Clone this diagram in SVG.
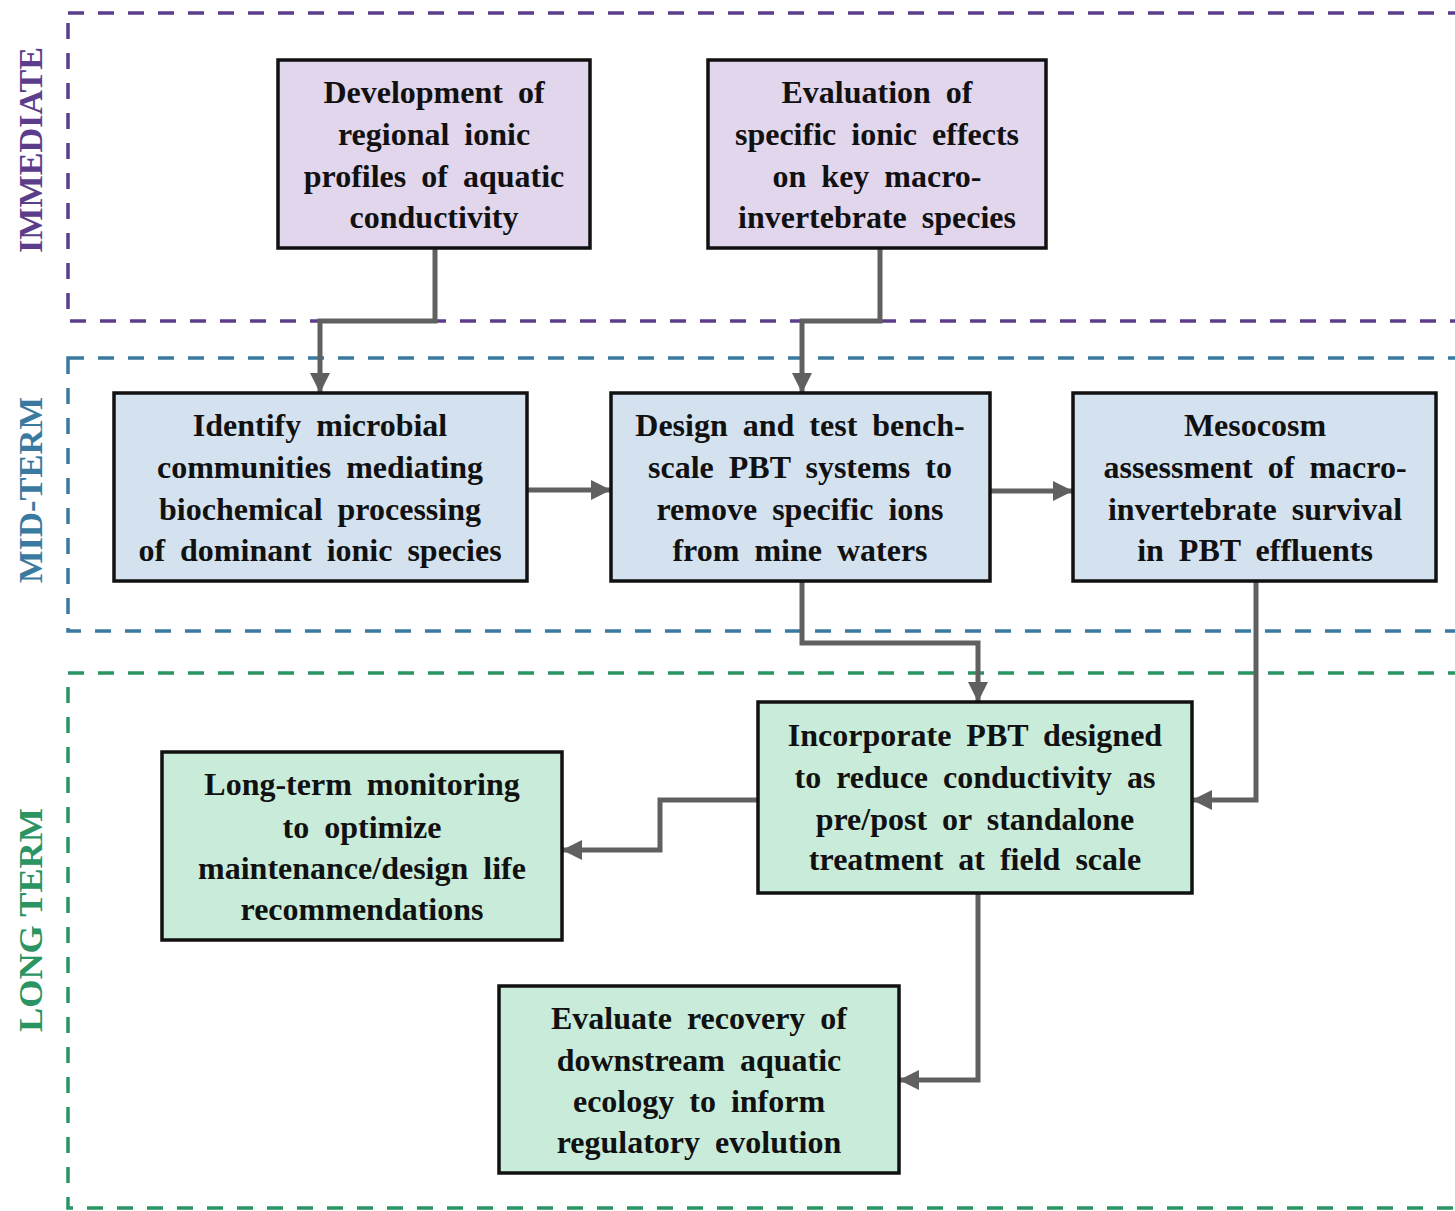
<svg xmlns="http://www.w3.org/2000/svg" width="1455" height="1211" viewBox="0 0 1455 1211">
  <style>
    .band { fill: none; stroke-width: 3.5; stroke-dasharray: 16 14; }
    .band-imm { stroke: #5c3d8c; }
    .band-mid { stroke: #3b7aa0; }
    .band-long { stroke: #2a9463; }
    .side { font-family: "Liberation Serif", "Times New Roman", serif; font-weight: bold; font-size: 34px; text-anchor: middle; }
    .node rect { stroke: #111; stroke-width: 3.5; }
    .imm rect { fill: #e2d6ec; }
    .mid rect { fill: #d4e2f0; }
    .long rect { fill: #c9ecda; }
    .node text { font-family: "Liberation Serif", "Times New Roman", serif; font-weight: bold; font-size: 32px; fill: #111; text-anchor: middle; word-spacing: 7px; }
    .conn { fill: none; stroke: #606060; stroke-width: 5; stroke-linejoin: miter; }
  </style>
  <defs>
    <marker id="arrow" markerUnits="userSpaceOnUse" markerWidth="22" markerHeight="22" refX="19" refY="11" orient="auto">
      <path d="M0,1 L20,11 L0,21 Z" fill="#606060"/>
    </marker>
  </defs>

  <rect width="1455" height="1211" fill="#ffffff"/>

  <!-- time-frame bands -->
  <g id="bands">
    <rect class="band band-imm" x="68" y="13" width="1400" height="308"/>
    <rect class="band band-mid" x="68" y="358" width="1400" height="273"/>
    <rect class="band band-long" x="68" y="673" width="1400" height="535"/>
    <text class="side" fill="#5c3d8c" transform="translate(42,150) rotate(-90)" textLength="206" lengthAdjust="spacingAndGlyphs">IMMEDIATE</text>
    <text class="side" fill="#3b7aa0" transform="translate(42,490) rotate(-90)" textLength="186" lengthAdjust="spacingAndGlyphs">MID-TERM</text>
    <text class="side" fill="#2a9463" transform="translate(42,920) rotate(-90)" textLength="224" lengthAdjust="spacingAndGlyphs">LONG TERM</text>
  </g>

  <!-- connectors -->
  <g id="connectors">
    <path class="conn" d="M435,248 V321 H320 V392" marker-end="url(#arrow)"/>
    <path class="conn" d="M880,248 V321 H802 V392" marker-end="url(#arrow)"/>
    <path class="conn" d="M527,490 H610" marker-end="url(#arrow)"/>
    <path class="conn" d="M990,491 H1072" marker-end="url(#arrow)"/>
    <path class="conn" d="M802,581 V643 H978 V701" marker-end="url(#arrow)"/>
    <path class="conn" d="M1256,581 V800 H1193" marker-end="url(#arrow)"/>
    <path class="conn" d="M758,800 H660 V850 H563" marker-end="url(#arrow)"/>
    <path class="conn" d="M978,893 V1080 H900" marker-end="url(#arrow)"/>
  </g>

  <!-- immediate -->
  <g id="n-ionic-profiles" class="node imm">
    <rect x="278" y="60" width="312" height="188"/>
    <text x="434" y="103">Development of</text>
    <text x="434" y="145">regional ionic</text>
    <text x="434" y="187">profiles of aquatic</text>
    <text x="434" y="228">conductivity</text>
  </g>
  <g id="n-ionic-effects" class="node imm">
    <rect x="708" y="60" width="338" height="188"/>
    <text x="877" y="103">Evaluation of</text>
    <text x="877" y="145">specific ionic effects</text>
    <text x="877" y="187">on key macro-</text>
    <text x="877" y="228">invertebrate species</text>
  </g>

  <!-- mid-term -->
  <g id="n-microbial" class="node mid">
    <rect x="114" y="393" width="413" height="188"/>
    <text x="320" y="436">Identify microbial</text>
    <text x="320" y="478">communities mediating</text>
    <text x="320" y="520">biochemical processing</text>
    <text x="320" y="561">of dominant ionic species</text>
  </g>
  <g id="n-bench-pbt" class="node mid">
    <rect x="611" y="393" width="379" height="188"/>
    <text x="800" y="436">Design and test bench-</text>
    <text x="800" y="478">scale PBT systems to</text>
    <text x="800" y="520">remove specific ions</text>
    <text x="800" y="561">from mine waters</text>
  </g>
  <g id="n-mesocosm" class="node mid">
    <rect x="1073" y="393" width="363" height="188"/>
    <text x="1255" y="436">Mesocosm</text>
    <text x="1255" y="478">assessment of macro-</text>
    <text x="1255" y="520">invertebrate survival</text>
    <text x="1255" y="561">in PBT effluents</text>
  </g>

  <!-- long term -->
  <g id="n-field-pbt" class="node long">
    <rect x="758" y="702" width="434" height="191"/>
    <text x="975" y="746">Incorporate PBT designed</text>
    <text x="975" y="788">to reduce conductivity as</text>
    <text x="975" y="830">pre/post or standalone</text>
    <text x="975" y="870">treatment at field scale</text>
  </g>
  <g id="n-monitoring" class="node long">
    <rect x="162" y="752" width="400" height="188"/>
    <text x="362" y="795">Long-term monitoring</text>
    <text x="362" y="838">to optimize</text>
    <text x="362" y="879">maintenance/design life</text>
    <text x="362" y="920">recommendations</text>
  </g>
  <g id="n-recovery" class="node long">
    <rect x="499" y="986" width="400" height="187"/>
    <text x="699" y="1029">Evaluate recovery of</text>
    <text x="699" y="1071">downstream aquatic</text>
    <text x="699" y="1112">ecology to inform</text>
    <text x="699" y="1153">regulatory evolution</text>
  </g>
</svg>
